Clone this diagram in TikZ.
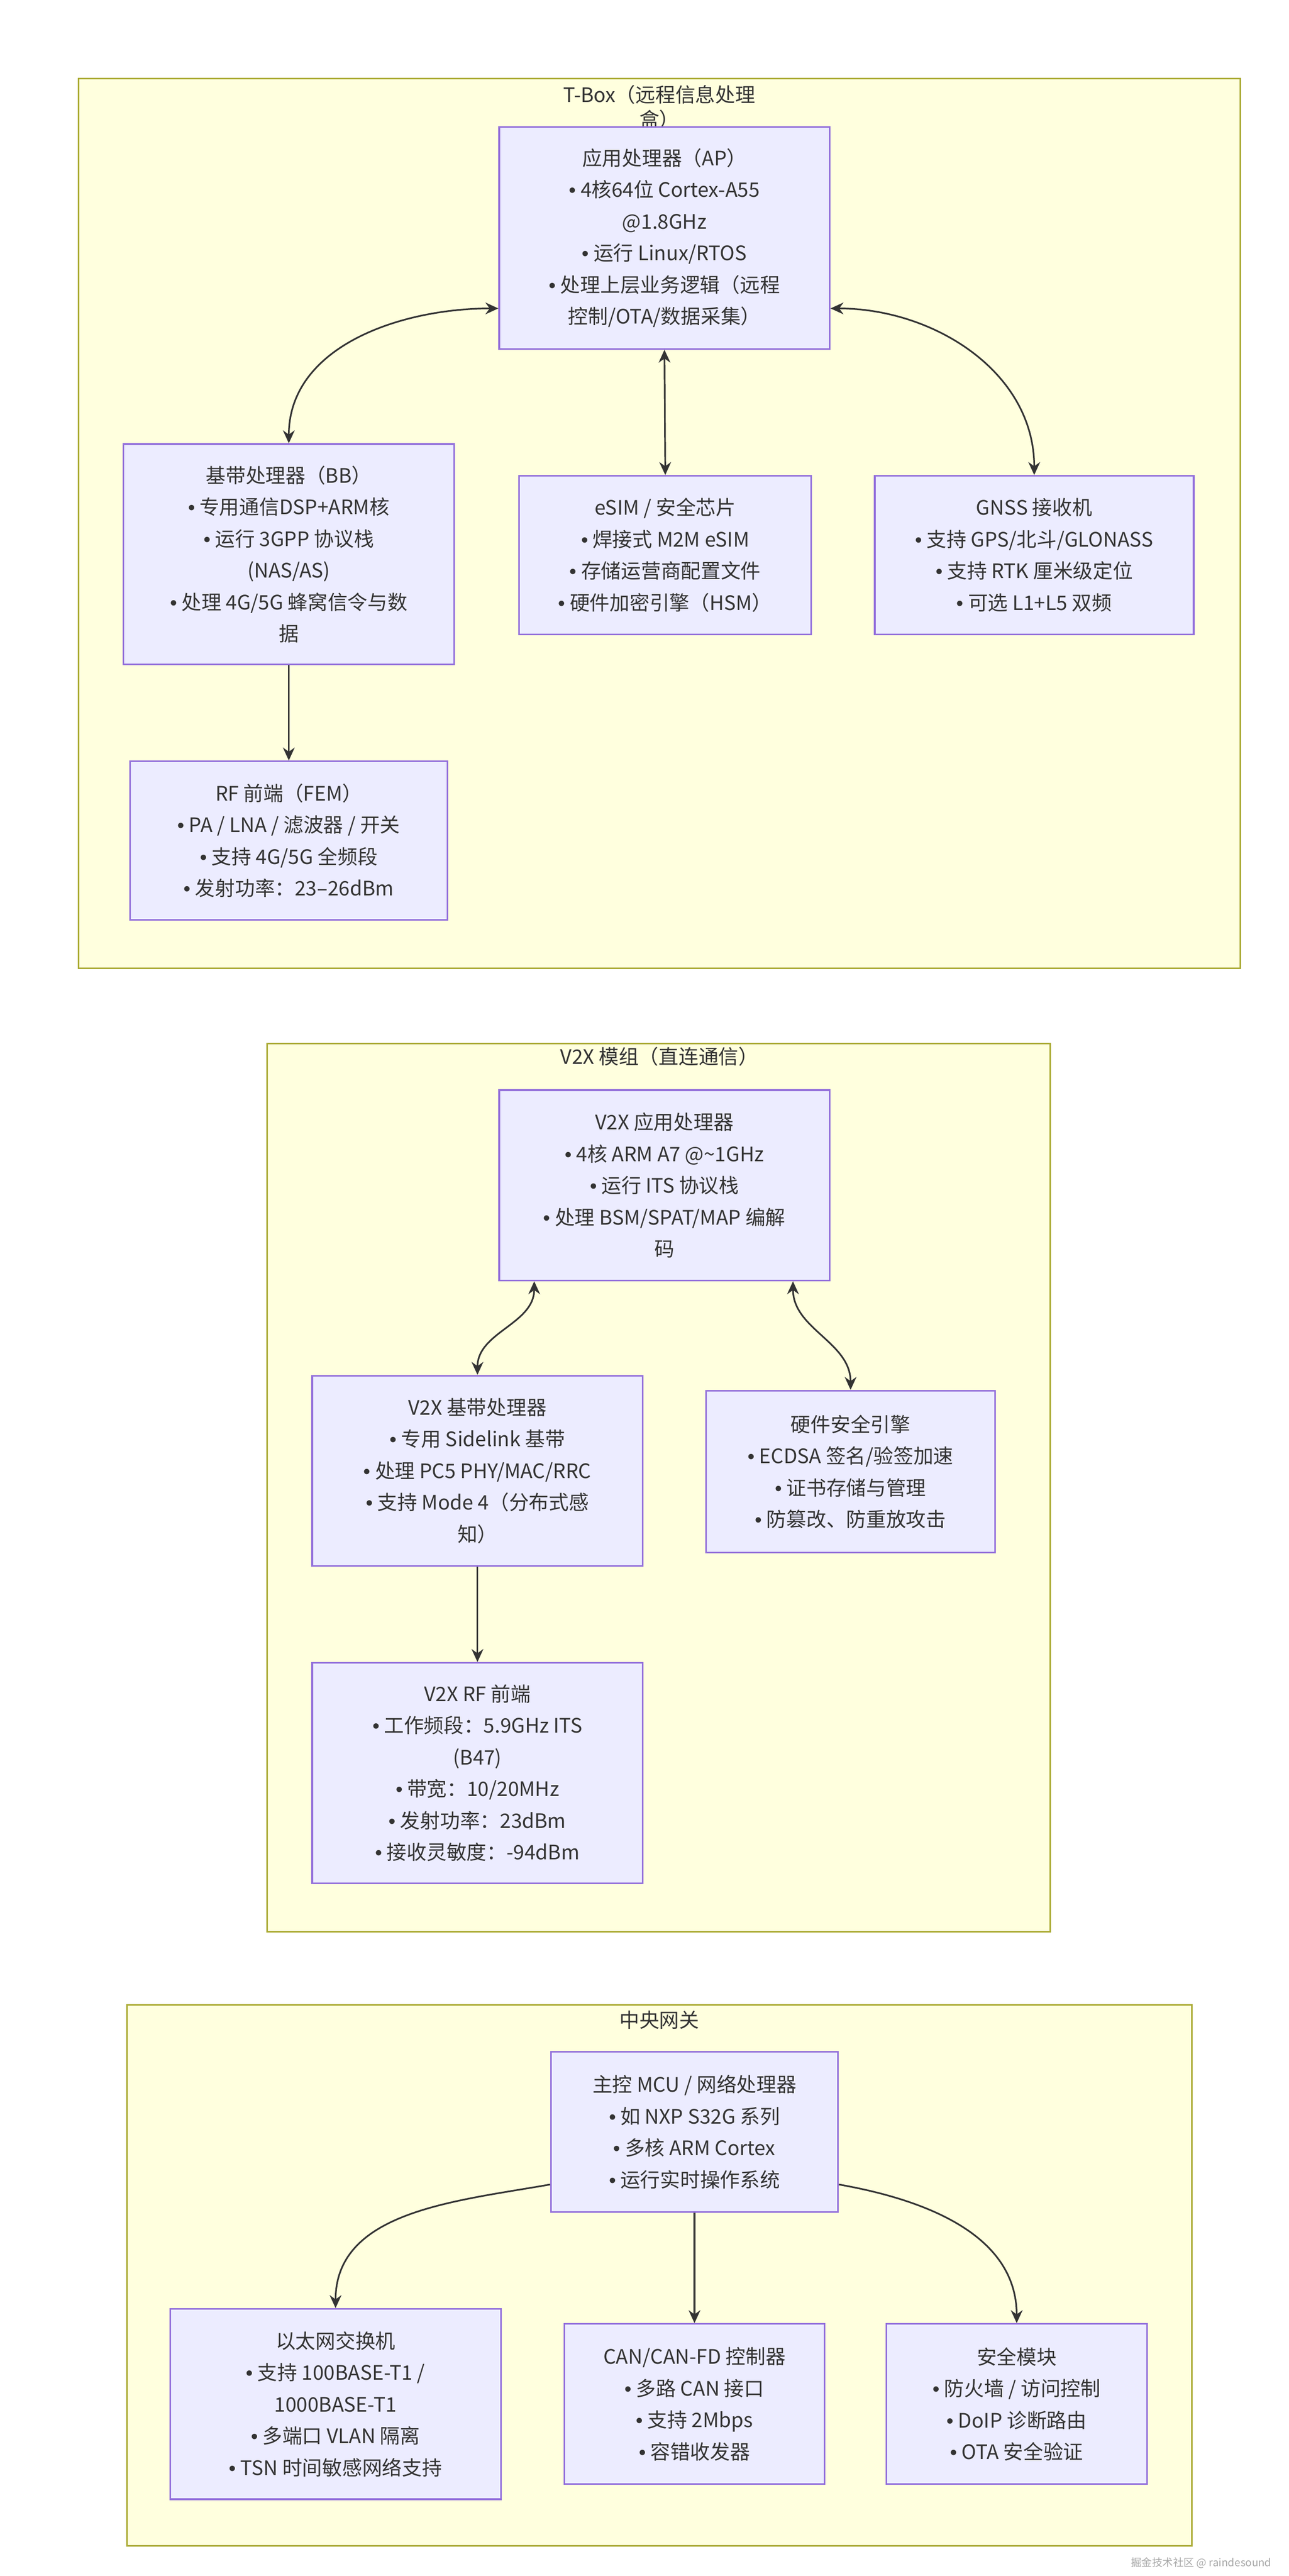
\documentclass[tikz,border=0pt]{standalone}
\usepackage{fontspec}
\setmainfont{Noto Sans CJK SC}
\newfontfamily\bulfont{Liberation Sans}
\newcommand{\bul}{{\bulfont•}}
\usetikzlibrary{arrows.meta,calc}
\definecolor{clfill}{HTML}{FFFFDE}
\definecolor{cldraw}{HTML}{AAAA33}
\definecolor{ndfill}{HTML}{ECECFF}
\definecolor{nddraw}{HTML}{9370DB}
\definecolor{txt}{HTML}{333333}
\tikzset{
  cluster/.style={draw=cldraw,fill=clfill,line width=1.4pt},
  ctitle/.style={text=txt,font=\fontsize{17}{21}\selectfont,align=center},
  box/.style={draw=nddraw,fill=ndfill,line width=1.4pt,text=txt,align=center,
    font=\fontsize{17}{27}\selectfont,inner sep=0pt},
  link/.style={draw=txt,line width=1.4pt,-{Stealth[length=11pt,width=10pt]}},
  blink/.style={link,{Stealth[length=11pt,width=10pt]}-{Stealth[length=11pt,width=10pt]}}
}
\begin{document}
\begin{tikzpicture}[x=0.05cm,y=-0.05cm]
\useasboundingbox (0,0) rectangle (772,1543);
% T-Box
\draw[cluster] (47,47) rectangle (743,580);
\node[ctitle] (ttbox) at (395,64) {T-Box（远程信息处理\\盒）};
\node[box,minimum width=9.9cm,minimum height=6.65cm] (ap) at (398,142.5)
  {应用处理器（AP）\\\bul{} 4核64位 Cortex-A55\\@1.8GHz\\\bul{} 运行 Linux/RTOS\\\bul{} 处理上层业务逻辑（远程\\控制/OTA/数据采集）};
\node[box,minimum width=9.9cm,minimum height=6.6cm] (bb) at (173,332)
  {基带处理器（BB）\\\bul{} 专用通信DSP+ARM核\\\bul{} 运行 3GPP 协议栈\\(NAS/AS)\\\bul{} 处理 4G/5G 蜂窝信令与数\\据};
\node[box,minimum width=8.75cm,minimum height=4.75cm] (esim) at (398.5,332.5)
  {eSIM / 安全芯片\\\bul{} 焊接式 M2M eSIM\\\bul{} 存储运营商配置文件\\\bul{} 硬件加密引擎（HSM）};
\node[box,minimum width=9.55cm,minimum height=4.75cm] (gnss) at (619.5,332.5)
  {GNSS 接收机\\\bul{} 支持 GPS/北斗/GLONASS\\\bul{} 支持 RTK 厘米级定位\\\bul{} 可选 L1+L5 双频};
\node[box,minimum width=9.5cm,minimum height=4.75cm] (rf) at (173,503.5)
  {RF 前端（FEM）\\\bul{} PA / LNA / 滤波器 / 开关\\\bul{} 支持 4G/5G 全频段\\\bul{} 发射功率：23–26dBm};
\draw[blink] (ap.203) to[out=180,in=90] (bb.north);
\draw[blink] (ap.south) -- (esim.north);
\draw[blink] (ap.337) to[out=0,in=90] (gnss.north);
\draw[link] (bb.south) -- (rf.north);
% V2X
\draw[cluster] (160,625) rectangle (629,1157);
\node[ctitle] (tv2x) at (395,633) {V2X 模组（直连通信）};
\node[box,minimum width=9.9cm,minimum height=5.7cm] (vap) at (398,710)
  {V2X 应用处理器\\\bul{} 4核 ARM A7 @\textasciitilde 1GHz\\\bul{} 运行 ITS 协议栈\\\bul{} 处理 BSM/SPAT/MAP 编解\\码};
\node[box,minimum width=9.9cm,minimum height=5.7cm] (vbb) at (286,881)
  {V2X 基带处理器\\\bul{} 专用 Sidelink 基带\\\bul{} 处理 PC5 PHY/MAC/RRC\\\bul{} 支持 Mode 4（分布式感\\知）};
\node[box,minimum width=8.65cm,minimum height=4.85cm] (vhsm) at (509.5,881.5)
  {硬件安全引擎\\\bul{} ECDSA 签名/验签加速\\\bul{} 证书存储与管理\\\bul{} 防篡改、防重放攻击};
\node[box,minimum width=9.9cm,minimum height=6.6cm] (vrf) at (286,1062)
  {V2X RF 前端\\\bul{} 工作频段：5.9GHz ITS\\(B47)\\\bul{} 带宽：10/20MHz\\\bul{} 发射功率：23dBm\\\bul{} 接收灵敏度：-94dBm};
\draw[blink] ($(vap.south)+(-78,0)$) to[out=270,in=90] (vbb.north);
\draw[blink] ($(vap.south)+(77,0)$) to[out=270,in=90] (vhsm.north);
\draw[link] (vbb.south) -- (vrf.north);
% Gateway
\draw[cluster] (76,1201) rectangle (714,1525);
\node[ctitle] (tgw) at (395,1210) {中央网关};
\node[box,minimum width=8.6cm,minimum height=4.8cm] (mcu) at (416,1277)
  {主控 MCU / 网络处理器\\\bul{} 如 NXP S32G 系列\\\bul{} 多核 ARM Cortex\\\bul{} 运行实时操作系统};
\node[box,minimum width=9.9cm,minimum height=5.7cm] (eth) at (201,1440)
  {以太网交换机\\\bul{} 支持 100BASE-T1 /\\1000BASE-T1\\\bul{} 多端口 VLAN 隔离\\\bul{} TSN 时间敏感网络支持};
\node[box,minimum width=7.8cm,minimum height=4.8cm] (can) at (416,1440)
  {CAN/CAN-FD 控制器\\\bul{} 多路 CAN 接口\\\bul{} 支持 2Mbps\\\bul{} 容错收发器};
\node[box,minimum width=7.8cm,minimum height=4.8cm] (sec) at (609,1440)
  {安全模块\\\bul{} 防火墙 / 访问控制\\\bul{} DoIP 诊断路由\\\bul{} OTA 安全验证};
\draw[link] (mcu.200) to[out=190,in=90] (eth.north);
\draw[link] (mcu.south) -- (can.north);
\draw[link] (mcu.340) to[out=-10,in=90] (sec.north);
\node[text=gray!70,font=\fontsize{9}{11}\selectfont,anchor=east] (wm) at (764,1535) {掘金技术社区 @ raindesound};
\end{tikzpicture}
\end{document}
